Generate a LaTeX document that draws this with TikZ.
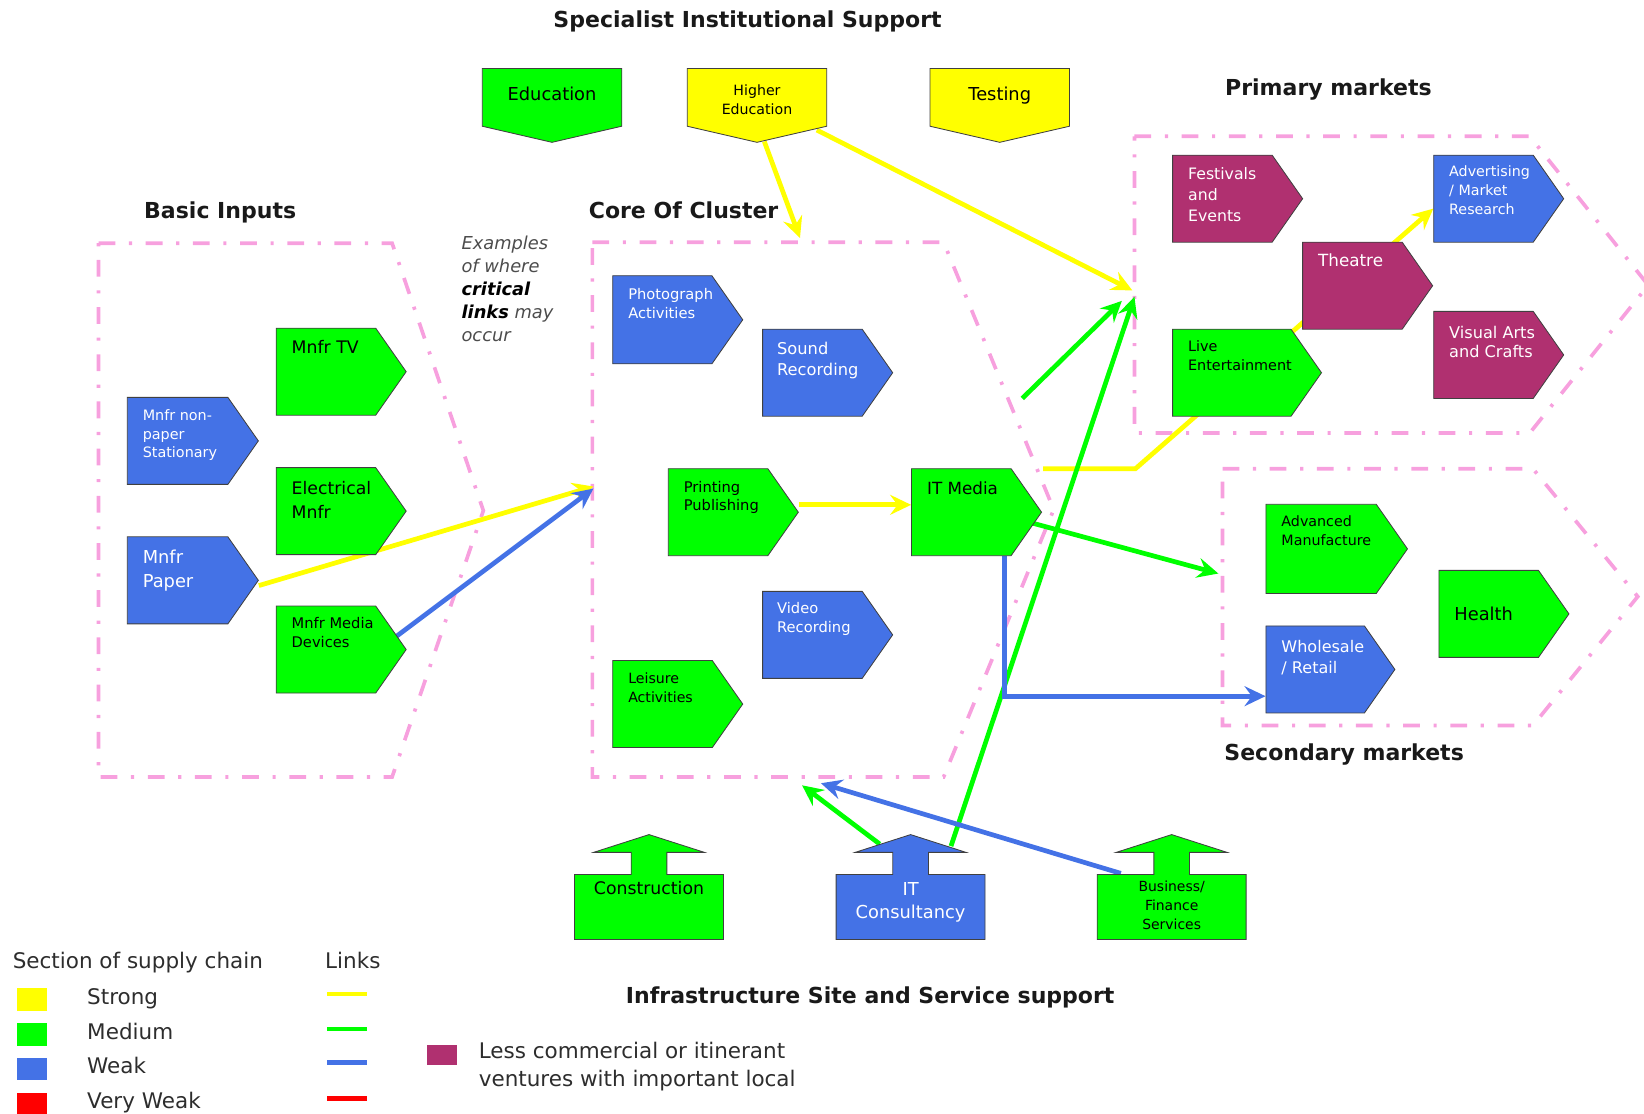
\documentclass[tikz,border=0pt]{standalone}
\usepackage{fontspec}
\setmainfont{DejaVu Sans}
\usetikzlibrary{shapes.symbols,arrows.meta,backgrounds}
\definecolor{cgreen}{RGB}{0,255,0}
\definecolor{cyellow}{RGB}{255,255,0}
\definecolor{cblue}{RGB}{68,114,230}
\definecolor{cmag}{RGB}{176,48,112}
\definecolor{cred}{RGB}{255,0,0}
\definecolor{cpink}{RGB}{247,160,222}
\definecolor{ctext}{RGB}{45,45,45}
\newcommand\fsz[2]{\fontsize{#1}{#2}\selectfont}
\newcommand\house[2]{%
  \path[draw=black!75, line width=0.8pt, fill=#2]
   ({#1-71},896) -- ({#1-71},834) -- ({#1-17},834) -- ({#1-17},813) -- ({#1-53},813)
   -- (#1,796) -- ({#1+53},813) -- ({#1+17},813) -- ({#1+17},834) -- ({#1+71},834)
   -- ({#1+71},896) -- cycle;}
\begin{document}
\begin{tikzpicture}[x=1pt,y=-1pt,
 zone/.style={draw=cpink, line width=3.5pt, dash pattern=on 16pt off 13pt on 3pt off 13pt},
 pbox/.style={signal, signal to=east, signal from=nowhere, signal pointer angle=110,
   draw=black!75, line width=0.8pt, minimum height=83pt, minimum width=124pt,
   inner sep=0pt, anchor=west},
 dbox/.style={signal, signal to=south, signal from=nowhere, signal pointer angle=154,
   draw=black!75, line width=0.8pt, minimum width=133pt, minimum height=55pt,
   inner sep=0pt, anchor=north},
 wt/.style={anchor=north west, inner sep=0pt, align=left, text=white},
 bt/.style={anchor=north west, inner sep=0pt, align=left, text=black},
 ct/.style={anchor=north, inner sep=0pt, align=center, text=black},
 hd/.style={anchor=base, inner sep=0pt, font=\fsz{21}{25}\bfseries, text=black!90},
 lg/.style={anchor=base west, inner sep=0pt, font=\fsz{20.5}{27}, text=ctext},
 lnk/.style={line width=4.5pt, -{Stealth[length=20pt,width=19pt,inset=7pt]}},
]
\useasboundingbox (0,0) rectangle (1568,1062);

% headings
\node[hd] at (713,26) {Specialist Institutional Support};
\node[hd] at (1267,91) {Primary markets};
\node[hd] at (210,208) {Basic Inputs};
\node[hd] at (652,208) {Core Of Cluster};
\node[hd] at (1282,725) {Secondary markets};
\node[hd] at (830,957) {Infrastructure Site and Service support};

\node[anchor=north west, inner sep=0pt, align=left, font=\fsz{17}{22}\itshape, text=black!70]
  at (440,225) {Examples\\of where\\\textcolor{black}{\textbf{critical}}\\\textcolor{black}{\textbf{links}} may\\occur};

% top boxes
\node[dbox, fill=cgreen] (edu) at (526.5,65) {};
\node[ct, font=\fsz{17}{20}] at (526.5,82.3) {Education};
\node[dbox, fill=cyellow] (hed) at (722,65) {};
\node[ct, font=\fsz{13.5}{18}] at (722,80.9) {Higher\\Education};
\node[dbox, fill=cyellow] (test) at (953.5,65) {};
\node[ct, font=\fsz{17}{20}] at (953.5,82.3) {Testing};

% basic inputs
\node[pbox, fill=cgreen] (tv) at (263,354.5) {};
\node[bt, font=\fsz{16.5}{20}] at (278,324.6) {Mnfr TV};
\node[pbox, fill=cblue, minimum width=125pt] (stat) at (121,420.5) {};
\node[wt, font=\fsz{13.7}{17.5}] at (136,390.7) {Mnfr non-\\paper\\Stationary};
\node[pbox, fill=cgreen] (elec) at (263,487.5) {};
\node[bt, font=\fsz{16.5}{23}] at (278,458.6) {Electrical\\Mnfr};
\node[pbox, fill=cblue, minimum width=125pt] (paper) at (121,553.5) {};
\node[wt, font=\fsz{17}{23}] at (136,524.3) {Mnfr\\Paper};
\node[pbox, fill=cgreen] (media) at (263,619.5) {};
\node[bt, font=\fsz{14}{18}] at (278,588.5) {Mnfr Media\\Devices};

% core
\node[pbox, fill=cblue, minimum height=84pt] (photo) at (584,305) {};
\node[wt, font=\fsz{14}{18}] at (599,274.5) {Photograph\\Activities};
\node[pbox, fill=cblue] (sound) at (727,355.5) {};
\node[wt, font=\fsz{15.5}{20}] at (741,326.4) {Sound\\Recording};
\node[pbox, fill=cgreen] (print) at (637,488.5) {};
\node[bt, font=\fsz{14}{18}] at (652,458.5) {Printing\\Publishing};
\node[pbox, fill=cgreen] (itmedia) at (869,488.5) {};
\node[bt, font=\fsz{16}{20}] at (884,459) {IT Media};
\node[pbox, fill=cblue] (video) at (727,605.5) {};
\node[wt, font=\fsz{14}{18}] at (741,574.5) {Video\\Recording};
\node[pbox, fill=cgreen] (leisure) at (584,671.5) {};
\node[bt, font=\fsz{13.5}{17.5}] at (599,641.9) {Leisure\\Activities};

% primary markets
\node[pbox, fill=cmag] (fest) at (1118,189.5) {};
\node[wt, font=\fsz{15}{20}] at (1133,159.3) {Festivals\\and\\Events};
\node[pbox, fill=cblue] (advert) at (1367,189.5) {};
\node[wt, font=\fsz{13.6}{18}] at (1382,157.8) {Advertising\\/ Market\\Research};
\node[pbox, fill=cmag] (theatre) at (1242,272.5) {};
\node[wt, font=\fsz{16}{20}] at (1257,242) {Theatre};
\node[pbox, fill=cgreen, minimum width=142pt] (live) at (1118,355.5) {};
\node[bt, font=\fsz{13.7}{18}] at (1133,324.7) {Live\\Entertainment};
\node[pbox, fill=cmag] (visual) at (1367,338.5) {};
\node[wt, font=\fsz{15.4}{19}] at (1382,310.5) {Visual Arts\\and Crafts};

% secondary markets
\node[pbox, fill=cgreen, minimum width=135pt, minimum height=85pt] (adv) at (1207,523.5) {};
\node[bt, font=\fsz{13.6}{17.5}] at (1222,491.8) {Advanced\\Manufacture};
\node[pbox, fill=cblue, minimum width=123pt] (whole) at (1207,638.5) {};
\node[wt, font=\fsz{15.3}{20}] at (1222,610.5) {Wholesale\\/ Retail};
\node[pbox, fill=cgreen] (health) at (1372,585.5) {};
\node[bt, font=\fsz{17}{20}] at (1387,578.3) {Health};

% infrastructure
\house{619}{cgreen}
\node[ct, font=\fsz{16.5}{20}] (cons) at (619,840.6) {Construction};
\house{868.5}{cblue}
\node[ct, font=\fsz{17}{22}, text=white] (itc) at (868.5,841.3) {IT\\Consultancy};
\house{1117.5}{cgreen}
\node[ct, font=\fsz{13.3}{18}] (bfs) at (1117.5,840) {Business/\\Finance\\Services};

% connector ends
\coordinate (coreTop) at (763,227);
\coordinate (hedS) at (729,135);
\coordinate (hedR) at (779,124);
\coordinate (primA) at (1080,277);
\coordinate (coreL) at (566,464);
\coordinate (coreL2) at (566,466);
\coordinate (itmY) at (995,447);
\coordinate (ybend) at (1083,447);
\coordinate (gfree) at (975,380);
\coordinate (primB) at (1070,287);
\coordinate (itcR) at (907,807);
\coordinate (primC) at (1082,283);
\coordinate (itmG) at (985,499);
\coordinate (secL) at (1162,547);
\coordinate (itcL) at (839,805);
\coordinate (coreB1) at (765,749);
\coordinate (mediaB) at (378,607);
\coordinate (itmB) at (958,530);
\coordinate (bfsTL) at (1069,833);
\coordinate (coreB2) at (783,747);

\begin{scope}[on background layer]
\draw[zone] (94,232) -- (374,232) -- (461,487) -- (374,741) -- (94,741) -- cycle;
\draw[zone] (565,231) -- (900,231) -- (1005,486) -- (900,741) -- (565,741) -- cycle;
\draw[zone] (1082,130) -- (1459,130) -- (1572,272) -- (1459,413) -- (1082,413) -- cycle;
\draw[zone] (1166,447) -- (1462,447) -- (1562,569) -- (1462,692) -- (1166,692) -- cycle;

\draw[lnk, cyellow] (hedS) -- (coreTop);
\draw[lnk, cyellow] (hedR) -- (primA);
\draw[lnk, cyellow] ([yshift=-5pt]paper.east) -- (coreL);
\draw[lnk, cyellow] ([yshift=7pt]print.east) -- ([yshift=7pt]itmedia.west);
\draw[lnk, cyellow] (itmY) -- (ybend) -- ([yshift=-9.5pt]advert.west);
\draw[lnk, cgreen] (gfree) -- (primB);
\draw[lnk, cgreen] (itcR) -- (primC);
\draw[lnk, cgreen] (itmG) -- (secL);
\draw[lnk, cgreen] (itcL) -- (coreB1);
\draw[lnk, cblue] (mediaB) -- (coreL2);
\draw[lnk, cblue] (itmB) |- ([yshift=-25.5pt]whole.west);
\draw[lnk, cblue] (bfsTL) -- (coreB2);
\end{scope}

% legend
\node[lg] at (12,924) {Section of supply chain};
\node[lg] at (310,924) {Links};
\fill[cyellow] (16,942) rectangle (45,964);
\fill[cgreen] (16,976) rectangle (45,997.5);
\fill[cblue] (16,1009) rectangle (45,1030);
\fill[cred] (16,1042.5) rectangle (45,1066);
\node[lg] at (83,958) {Strong};
\node[lg] at (83,991) {Medium};
\node[lg] at (83,1024) {Weak};
\node[lg] at (83,1057) {Very Weak};
\draw[line width=4.5pt, cyellow] (312,948) -- (350,948);
\draw[line width=4.5pt, cgreen] (312,981.5) -- (350,981.5);
\draw[line width=4.5pt, cblue] (312,1013.5) -- (350,1013.5);
\draw[line width=4.5pt, cred] (312,1048) -- (350,1048);
\fill[cmag] (407,997) rectangle (436,1016);
\node[anchor=north west, inner sep=0pt, align=left, font=\fsz{20.5}{27}, text=ctext]
  at (456.5,993.5) {Less commercial or itinerant\\ventures with important local};
\end{tikzpicture}
\end{document}
